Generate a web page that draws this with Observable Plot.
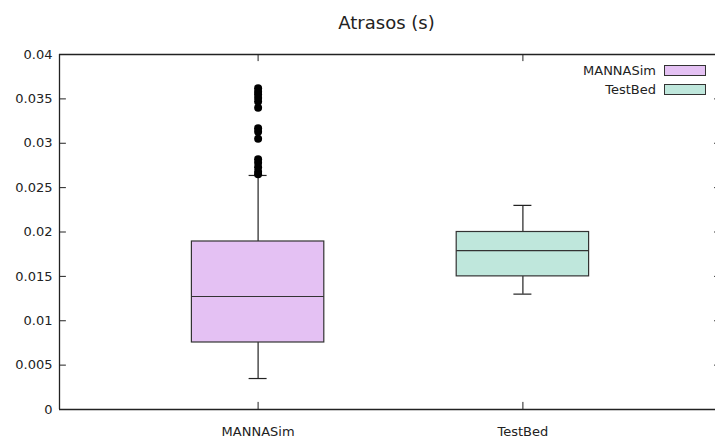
<!DOCTYPE html>
<html>
<head>
<meta charset="utf-8">
<script src="https://cdn.jsdelivr.net/npm/d3@7"></script>
<script src="https://cdn.jsdelivr.net/npm/@observablehq/plot@0.6"></script>
<style>
  html, body { margin: 0; padding: 0; background: #fff; }
  #wrap { position: relative; width: 715px; height: 439px; overflow: hidden; font-family: "DejaVu Sans", sans-serif; }
  #wrap svg { max-width: none !important; }
  #legend { position: absolute; right: 9px; top: 61px; font-size: 13px; color: #222; }
  .row { display: flex; align-items: center; justify-content: flex-end; height: 19px; }
  .sw { width: 40px; height: 9px; border: 1px solid #333; margin-left: 8px; }
</style>
</head>
<body>
<div id="wrap"><div id="legend"></div></div>
<script>
// ---- data ----
const categories = ["MANNASim", "TestBed"];
const positions = [1, 2];
const colors = ["#e4c1f3", "#bfe7dc"];
const whiskerLow = [0.00349, 0.0130];
const q1 = [0.00755, 0.0150];
const median = [0.01273, 0.0179];
const q3 = [0.01893, 0.0200];
const whiskerHigh = [0.02637, 0.0230];
const outliersMANNASim = [0.0362, 0.0358, 0.0355, 0.0351, 0.0347, 0.0340, 0.0317, 0.0313, 0.0305, 0.0282, 0.0278, 0.0273, 0.0268, 0.0265];
const yTicks = [0, 0.005, 0.01, 0.015, 0.02, 0.025, 0.03, 0.035, 0.04];
const title = "Atrasos (s)";

const boxes = categories.map((c, i) => ({
  cat: c, x: positions[i], color: colors[i],
  lo: whiskerLow[i], q1: q1[i], med: median[i], q3: q3[i], hi: whiskerHigh[i]
}));
const outliers = outliersMANNASim.map(v => ({x: positions[0], y: v}));

const half = 0.25, cap = 0.034;
const xDom = [0.25, 2.75];
const tickLenX = 0.026;  // y tick length in x units (~7px)
const tickLenY = 0.0008; // x tick length in y units (~7px)
const ink = "#222";

const chart = Plot.plot({
  width: 722, height: 439,
  marginLeft: 59, marginRight: 1, marginTop: 54, marginBottom: 30,
  style: {fontFamily: "DejaVu Sans, sans-serif", fontSize: "13px", color: ink, background: "white", maxWidth: "none"},
  x: {domain: xDom, axis: null},
  y: {domain: [0, 0.04], axis: null},
  marks: [
    // frame
    Plot.ruleY([0, 0.04], {stroke: ink, strokeWidth: 1.3}),
    Plot.ruleX([xDom[0], xDom[1]], {stroke: ink, strokeWidth: 1.3}),
    // y ticks (inward, left and right)
    Plot.ruleY(yTicks, {x1: xDom[0], x2: xDom[0] + tickLenX, stroke: ink}),
    Plot.ruleY(yTicks, {x1: xDom[1] - tickLenX, x2: xDom[1], stroke: ink}),
    Plot.text(yTicks, {x: xDom[0], y: d => d, text: d => String(d), textAnchor: "end", dx: -7, fill: ink}),
    // x ticks (inward, bottom and top)
    Plot.ruleX(positions, {y1: 0, y2: tickLenY, stroke: ink}),
    Plot.ruleX(positions, {y1: 0.04 - tickLenY, y2: 0.04, stroke: ink}),
    Plot.text(boxes, {x: "x", y: 0, text: "cat", dy: 22, fill: ink}),
    // whiskers
    Plot.ruleX(boxes, {x: "x", y1: "lo", y2: "q1", stroke: ink, strokeWidth: 1.2}),
    Plot.ruleX(boxes, {x: "x", y1: "q3", y2: "hi", stroke: ink, strokeWidth: 1.2}),
    Plot.ruleY(boxes, {y: "lo", x1: d => d.x - cap, x2: d => d.x + cap, stroke: ink, strokeWidth: 1.2}),
    Plot.ruleY(boxes, {y: "hi", x1: d => d.x - cap, x2: d => d.x + cap, stroke: ink, strokeWidth: 1.2}),
    // boxes
    Plot.rect(boxes, {x1: d => d.x - half, x2: d => d.x + half, y1: "q1", y2: "q3", fill: "color", stroke: "#333", strokeWidth: 1.2}),
    Plot.ruleY(boxes, {y: "med", x1: d => d.x - half, x2: d => d.x + half, stroke: "#333", strokeWidth: 1.2}),
    // outliers
    Plot.dot(outliers, {x: "x", y: "y", r: 4, fill: "black", stroke: null}),
    // title
    Plot.text([title], {frameAnchor: "top", dy: -38, text: d => d, fontSize: 18, fill: ink, dx: -4})
  ]
});
chart.style.maxWidth = "none";
document.getElementById("wrap").prepend(chart);

const legend = document.getElementById("legend");
categories.forEach((c, i) => {
  const row = document.createElement("div");
  row.className = "row";
  const t = document.createElement("span");
  t.textContent = c;
  const sw = document.createElement("div");
  sw.className = "sw";
  sw.style.background = colors[i];
  row.append(t, sw);
  legend.append(row);
});
</script>
</body>
</html>
